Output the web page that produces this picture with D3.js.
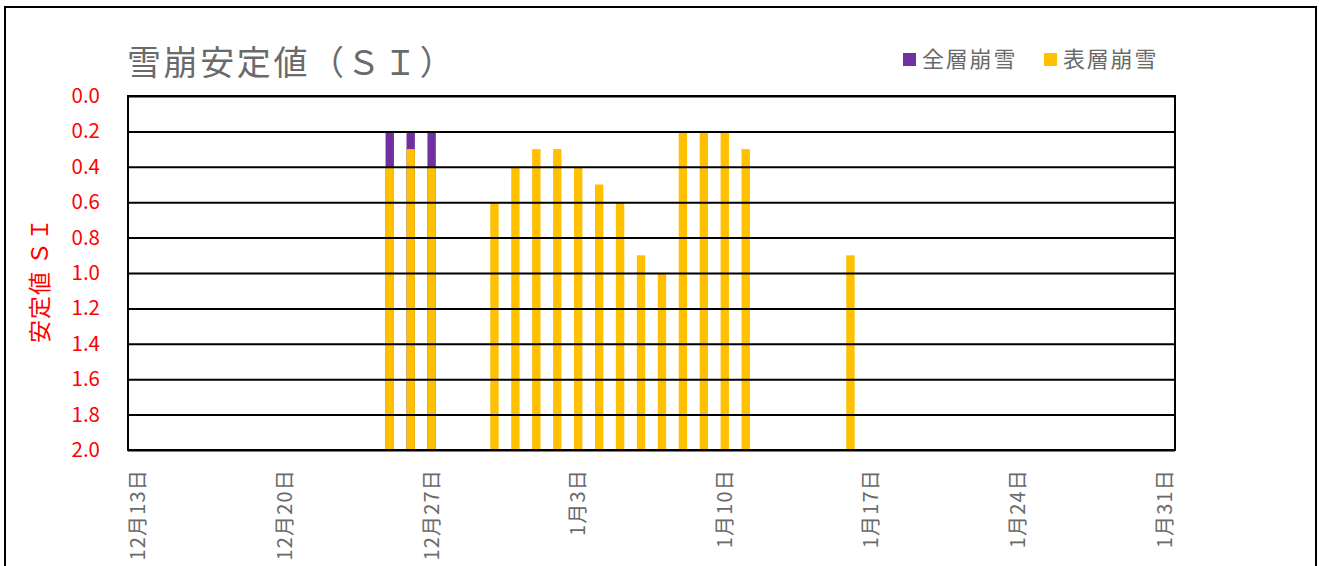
<!DOCTYPE html>
<html><head><meta charset="utf-8">
<script src="https://cdn.jsdelivr.net/npm/d3@7"></script>
<style>
html,body{margin:0;padding:0;background:#fff;}
svg{display:block;}
text{font-family:"Noto Sans CJK JP","Noto Sans",sans-serif;}
</style></head>
<body>
<svg id="chart" width="1319" height="566"></svg>
<script>
// ---- data ----
const startDate = "2019-12-13";
const endDate = "2020-01-31";
const barDates = ["2019-12-25","2019-12-26","2019-12-27","2019-12-30","2019-12-31","2020-01-01","2020-01-02","2020-01-03","2020-01-04","2020-01-05","2020-01-06","2020-01-07","2020-01-08","2020-01-09","2020-01-10","2020-01-11","2020-01-16"];
const surfaceValues = [0.4,0.3,0.4,0.6,0.4,0.3,0.3,0.4,0.5,0.6,0.9,1.0,0.2,0.2,0.2,0.3,0.9];   // 表層崩雪
const fullDates = ["2019-12-25","2019-12-26","2019-12-27"];
const fullValues = [0.2,0.2,0.2];   // 全層崩雪
const yTicks = [0.0,0.2,0.4,0.6,0.8,1.0,1.2,1.4,1.6,1.8,2.0];
const xTickDates = ["2019-12-13","2019-12-20","2019-12-27","2020-01-03","2020-01-10","2020-01-17","2020-01-24","2020-01-31"];
const xTickLabels = ["12月13日","12月20日","12月27日","1月3日","1月10日","1月17日","1月24日","1月31日"];
const seriesNames = ["全層崩雪","表層崩雪"];
const seriesColors = ["#7030A0","#FFC000"];
const titleText = "雪崩安定値（ＳＩ）";
const yTitle = "安定値 ＳＩ";

// ---- layout ----
const svg = d3.select("#chart");
const plot = {left:128, top:96, right:1175, bottom:450};
const parse = d3.timeParse("%Y-%m-%d");
const fmt = d3.timeFormat("%Y-%m-%d");
const days = d3.timeDay.range(parse(startDate), d3.timeDay.offset(parse(endDate),1)).map(fmt);

const x = d3.scaleBand().domain(days).range([plot.left, plot.right]).padding(0);
const y = d3.scaleLinear().domain([0,2]).range([plot.top, plot.bottom]);
const barW = x.bandwidth()*0.4;

// outer frame
svg.append("rect").attr("x",5).attr("y",7).attr("width",1311).attr("height",600)
  .attr("fill","none").attr("stroke","#000").attr("stroke-width",2);

// title
svg.append("text").attr("x",127).attr("y",75).attr("font-size",34).attr("letter-spacing",2.6)
  .attr("fill","#6a6a6a").text(titleText);

// legend
const lg = svg.append("g");
const legendX = [903,1044];
seriesNames.forEach((n,i)=>{
  lg.append("rect").attr("x",legendX[i]).attr("y",53).attr("width",13).attr("height",13).attr("fill",seriesColors[i]);
  lg.append("text").attr("x",legendX[i]+19).attr("y",67).attr("font-size",22).attr("letter-spacing",1.8)
    .attr("fill","#6a6a6a").text(n);
});

// bars: full-depth first (behind), then surface
svg.append("g").selectAll("rect").data(fullDates.map((d,i)=>({d,v:fullValues[i]}))).join("rect")
  .attr("x",d=>x(d.d)+(x.bandwidth()-barW)/2).attr("width",barW)
  .attr("y",d=>y(d.v)).attr("height",d=>y(2)-y(d.v)).attr("fill",seriesColors[0]);
svg.append("g").selectAll("rect").data(barDates.map((d,i)=>({d,v:surfaceValues[i]}))).join("rect")
  .attr("x",d=>x(d.d)+(x.bandwidth()-barW)/2).attr("width",barW)
  .attr("y",d=>y(d.v)).attr("height",d=>y(2)-y(d.v)).attr("fill",seriesColors[1]);

// gridlines
const yAxis = d3.axisLeft(y).tickValues(yTicks).tickSize(-(plot.right-plot.left)).tickFormat(d3.format(".1f")).tickPadding(28);
const gy = svg.append("g").attr("transform",`translate(${plot.left},0)`).call(yAxis);
gy.select(".domain").remove();
gy.selectAll(".tick line").attr("stroke","#000").attr("stroke-width",2);
gy.selectAll(".tick text").attr("fill","#FF0000").attr("font-size",20.5).attr("font-family","'Noto Sans','Noto Sans CJK JP',sans-serif");

// plot border
svg.append("rect").attr("x",plot.left).attr("y",plot.top).attr("width",plot.right-plot.left).attr("height",plot.bottom-plot.top)
  .attr("fill","none").attr("stroke","#000").attr("stroke-width",2);

// x axis labels
const xAxis = d3.axisBottom(x).tickValues(xTickDates).tickSize(0).tickFormat(d=>xTickLabels[xTickDates.indexOf(d)]);
const gx = svg.append("g").attr("transform",`translate(0,${plot.bottom})`).call(xAxis);
gx.select(".domain").remove();
gx.selectAll(".tick text").attr("fill","#6a6a6a").attr("font-size",20).attr("letter-spacing",1.2)
  .attr("text-anchor","end").attr("transform","rotate(-90)").attr("x",-19).attr("y",0).attr("dy","0.35em");

// y title
svg.append("text").attr("transform","translate(38,280) rotate(-90)").attr("text-anchor","middle")
  .attr("dominant-baseline","central").attr("font-size",23).attr("letter-spacing",1)
  .attr("fill","#FF0000").text(yTitle);
</script>
</body></html>
